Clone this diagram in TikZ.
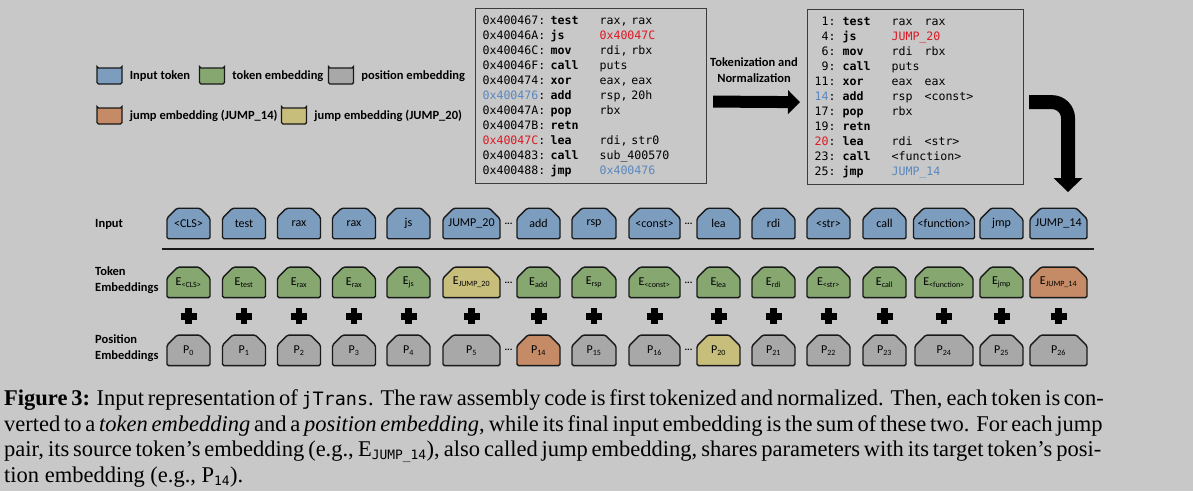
\documentclass[tikz,border=0pt]{standalone}
\usepackage{fontspec}
\setmainfont{Carlito}
\newfontfamily\codefont{DejaVu Sans Mono}
\newfontfamily\capfont{Liberation Serif}
\newfontfamily\capmono[Scale=0.82]{DejaVu Sans Mono}
\usetikzlibrary{positioning,shapes.misc,arrows.meta,calc}

\definecolor{bggray}{RGB}{200,200,200}
\definecolor{inblue}{RGB}{125,157,190}
\definecolor{tokgreen}{RGB}{134,168,112}
\definecolor{posgray}{RGB}{168,168,168}
\definecolor{jmporange}{RGB}{196,139,102}
\definecolor{jmpyellow}{RGB}{200,190,123}
\definecolor{edgeblack}{RGB}{25,25,25}
\definecolor{codered}{RGB}{220,25,35}
\definecolor{codeblue}{RGB}{90,135,190}

% one line of the raw listing / of the normalized listing
\newcommand{\rawline}[3]{\makebox[68pt][l]{#1}\makebox[49pt][l]{\bfseries #2}#3}
\newcommand{\normline}[4]{\makebox[21pt][r]{#1:}\hspace{7pt}\makebox[49pt][l]{\bfseries #2}\makebox[33pt][l]{#3}#4}
\newcommand{\capline}[1]{\makebox[1097pt][s]{#1}}

\tikzset{
  tokshape/.style={chamfered rectangle, chamfered rectangle corners={north west,north east},
    chamfered rectangle xsep=5pt, chamfered rectangle ysep=6pt, rounded corners=1.5pt,
    draw=edgeblack, line width=1.4pt, inner sep=0pt, minimum height=30.5pt},
  inbox/.style={tokshape, fill=inblue},
  legbox/.style={tokshape, minimum width=25pt, minimum height=16pt,
    chamfered rectangle xsep=3pt, chamfered rectangle ysep=4pt},
  legtext/.style={right=7pt of #1, inner sep=0pt, font=\bfseries\fontsize{12.5}{14}\selectfont},
  rowlabel/.style={anchor=west, align=left, inner sep=0pt, font=\bfseries\fontsize{12.5}{16}\selectfont},
  codebox/.style={draw=edgeblack!85, line width=1.1pt, anchor=north west, inner xsep=7pt,
    inner ysep=7pt, align=left, font=\codefont\fontsize{11.6}{15}\selectfont},
  fatarrow/.style={line width=12pt, -{Triangle[length=12pt,width=24pt,line width=0pt]}},
  plusmark/.style={line width=6.5pt},
  dotsmark/.style={inner sep=0pt, font=\bfseries\fontsize{10}{10}\selectfont}
}

\begin{document}
\begin{tikzpicture}[x=1pt, y=-1pt, font=\fontsize{12}{14}\selectfont]
  \path[use as bounding box, fill=bggray] (0,0) rectangle (1193,491);

  % Legend
  \node[legbox, fill=inblue] (leg1) at (109.5,76) {};
  \node[legtext=leg1] (leg1txt) {Input token};
  \node[legbox, fill=tokgreen] (leg2) at (212,76) {};
  \node[legtext=leg2] (leg2txt) {token embedding};
  \node[legbox, fill=posgray] (leg3) at (341,76) {};
  \node[legtext=leg3] (leg3txt) {position embedding};
  \node[legbox, fill=jmporange] (leg4) at (109.5,116) {};
  \node[legtext=leg4] (leg4txt) {jump embedding (JUMP\_14)};
  \node[legbox, fill=jmpyellow] (leg5) at (294,116) {};
  \node[legtext=leg5] (leg5txt) {jump embedding (JUMP\_20)};

  % Raw assembly
  \node[codebox, text width=217pt] (code1) at (475,8) {%
    \rawline{0x400467:}{test}{rax, rax}\\
    \rawline{0x40046A:}{js}{\textcolor{codered}{0x40047C}}\\
    \rawline{0x40046C:}{mov}{rdi, rbx}\\
    \rawline{0x40046F:}{call}{puts}\\
    \rawline{0x400474:}{xor}{eax, eax}\\
    \rawline{\textcolor{codeblue}{0x400476}:}{add}{rsp, 20h}\\
    \rawline{0x40047A:}{pop}{rbx}\\
    \rawline{0x40047B:}{retn}{}\\
    \rawline{\textcolor{codered}{0x40047C}:}{lea}{rdi, str0}\\
    \rawline{0x400483:}{call}{sub\_400570}\\
    \rawline{0x400488:}{jmp}{\textcolor{codeblue}{0x400476}}};

  % Normalized tokens
  \node[codebox, text width=202pt] (code2) at (807,9) {%
    \normline{1}{test}{rax}{rax}\\
    \normline{4}{js}{\textcolor{codered}{JUMP\_20}}{}\\
    \normline{6}{mov}{rdi}{rbx}\\
    \normline{9}{call}{puts}{}\\
    \normline{11}{xor}{eax}{eax}\\
    \normline{\textcolor{codeblue}{14}}{add}{rsp}{<const>}\\
    \normline{17}{pop}{rbx}{}\\
    \normline{19}{retn}{}{}\\
    \normline{\textcolor{codered}{20}}{lea}{rdi}{<str>}\\
    \normline{23}{call}{<function>}{}\\
    \normline{25}{jmp}{\textcolor{codeblue}{JUMP\_14}}{}};

  % Arrows
  \draw[fatarrow] ([xshift=6pt,yshift=-5.5pt]code1.east) -- ([xshift=-7pt,yshift=-5pt]code2.west);
  \node[font=\bfseries\fontsize{12.5}{16}\selectfont, align=center] (toklbl) at (754,70) {Tokenization and\\Normalization};
  \coordinate (jumptip) at (1068,192);
  \draw[fatarrow, line width=14pt, rounded corners=16pt, -{Triangle[length=14pt,width=29pt,line width=0pt]}]
    ([xshift=5pt,yshift=-5pt]code2.east) -| (jumptip);

  % Rows of tokens
  \foreach \i/\x/\w/\lbl/\sub/\tc/\pc in {
      0/188.5/43/<CLS>/0/tokgreen/posgray,
      1/244/43/test/1/tokgreen/posgray,
      2/299/43/rax/2/tokgreen/posgray,
      3/354/43/rax/3/tokgreen/posgray,
      4/408.5/43/js/4/tokgreen/posgray,
      5/471.5/57/JUMP\_20/5/jmpyellow/posgray,
      6/538.5/43/add/14/tokgreen/jmporange,
      7/594/44/rsp/15/tokgreen/posgray,
      8/654.5/51/<const>/16/tokgreen/posgray,
      9/718.5/43/lea/20/tokgreen/jmpyellow,
      10/773.5/43/rdi/21/tokgreen/posgray,
      11/828.5/43/<str>/22/tokgreen/posgray,
      12/884.5/43/call/23/tokgreen/posgray,
      13/944/58/<function>/24/tokgreen/posgray,
      14/1001.5/43/jmp/25/tokgreen/posgray,
      15/1058.5/57/JUMP\_14/26/jmporange/posgray}{
    \node[inbox, minimum width=\w pt] (in\i) at (\x,223.5) {\lbl};
    \node[tokshape, fill=\tc, minimum width=\w pt, below=27pt of in\i] (tk\i) {E\textsubscript{\lbl}};
    \node[tokshape, fill=\pc, minimum width=\w pt, below=36pt of tk\i] (ps\i) {P\textsubscript{\sub}};
    \draw[plusmark] ($(tk\i.south)!0.5!(ps\i.north)$) +(-8,0) -- +(8,0) +(0,-8) -- +(0,8);
  }

  % Skipped tokens
  \foreach \r in {in,tk,ps}{
    \node[dotsmark] (dotsA\r) at ($(\r5.east)!0.5!(\r6.west)$) {...};
    \node[dotsmark] (dotsB\r) at ($(\r8.east)!0.5!(\r9.west)$) {...};
  }

  \draw[line width=1.3pt, edgeblack] (162,249) -- (1094,249);

  % Row labels
  \node[rowlabel] (lblin) at (95,224) {Input};
  \node[rowlabel] (lbltk) at (95,280.5) {Token\\Embeddings};
  \node[rowlabel] (lblps) at (95,348) {Position\\Embeddings};

  % Caption
  \node[anchor=north west, inner sep=0pt, align=left, font=\capfont\fontsize{22.5}{25.5}\selectfont] (caption) at (4,389.5) {%
    \capline{\textbf{Figure 3:} Input representation of {\capmono jTrans}. The raw assembly code is first tokenized and normalized. Then, each token is con-}\\
    \capline{verted to a \textit{token embedding} and a \textit{position embedding}, while its final input embedding is the sum of these two. For each jump}\\
    \capline{pair, its source token’s embedding (e.g., E\textsubscript{\capmono JUMP\_14}), also called jump embedding, shares parameters with its target token’s posi-}\\
    tion embedding (e.g., P\textsubscript{\capmono 14}).};
\end{tikzpicture}
\end{document}
